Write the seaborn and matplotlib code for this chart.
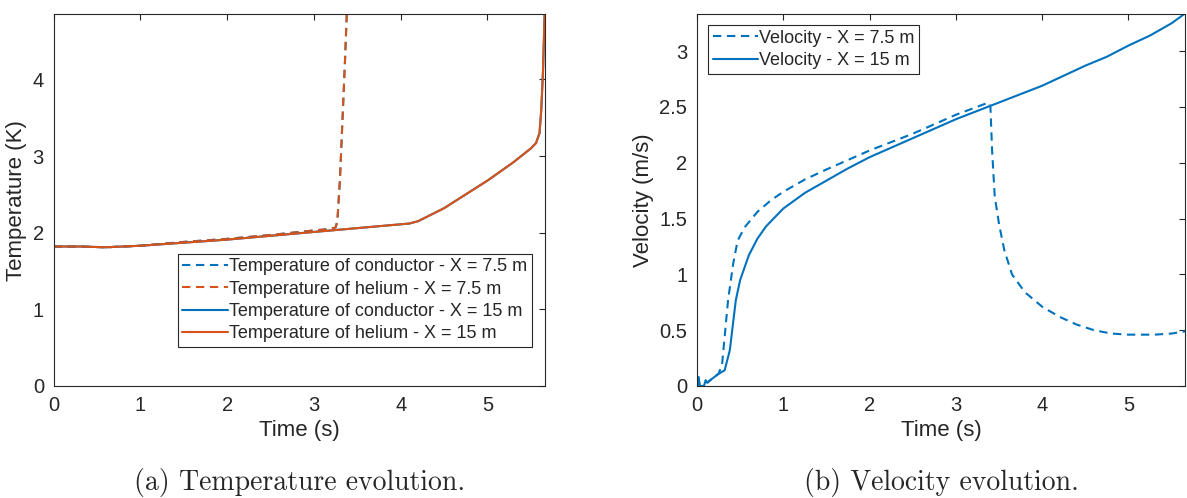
import matplotlib
matplotlib.use("Agg")
import matplotlib.pyplot as plt
import seaborn as sns

# temperature data (K)
t_15 = [0, 0.3, 0.6, 0.8, 1.0, 1.5, 2.0, 2.5, 3.0, 3.5, 4.0, 4.1, 4.2, 4.5, 5.0, 5.3, 5.5, 5.56, 5.6, 5.62, 5.64, 5.65, 5.66]
T_cond_15 = [1.82, 1.82, 1.81, 1.82, 1.83, 1.87, 1.91, 1.96, 2.01, 2.06, 2.11, 2.12, 2.15, 2.32, 2.68, 2.92, 3.1, 3.17, 3.3, 3.6, 4.1, 4.5, 4.9]
T_he_15 = [1.82, 1.82, 1.81, 1.82, 1.83, 1.87, 1.91, 1.96, 2.01, 2.06, 2.11, 2.12, 2.15, 2.32, 2.68, 2.92, 3.1, 3.17, 3.3, 3.6, 4.1, 4.5, 4.9]
t_75 = [0, 0.3, 0.6, 0.8, 1.0, 1.5, 2.0, 2.5, 3.0, 3.2, 3.25, 3.27, 3.3, 3.33, 3.36, 3.38]
T_cond_75 = [1.82, 1.82, 1.81, 1.82, 1.83, 1.88, 1.92, 1.97, 2.03, 2.05, 2.07, 2.15, 2.7, 3.5, 4.3, 4.9]
T_he_75 = [1.82, 1.82, 1.81, 1.82, 1.83, 1.88, 1.92, 1.97, 2.03, 2.05, 2.07, 2.15, 2.7, 3.5, 4.3, 4.9]

# velocity data (m/s)
tv_15 = [0, 0.02, 0.03, 0.05, 0.08, 0.1, 0.12, 0.15, 0.2, 0.25, 0.32, 0.38, 0.45, 0.5, 0.6, 0.7, 0.8, 1.0, 1.25, 1.5,
         1.75, 2.0, 2.5, 3.0, 3.4, 3.7, 4.0, 4.25, 4.5, 4.75, 5.0, 5.25, 5.5, 5.66]
v_15 = [0, 0.08, 0.0, 0.0, 0.0, 0.05, 0.03, 0.05, 0.08, 0.11, 0.14, 0.32, 0.77, 0.95, 1.17, 1.32, 1.43, 1.59, 1.73, 1.84,
        1.95, 2.05, 2.22, 2.39, 2.51, 2.60, 2.69, 2.78, 2.87, 2.95, 3.05, 3.14, 3.25, 3.34]
tv_75 = [0, 0.02, 0.03, 0.05, 0.08, 0.1, 0.12, 0.15, 0.2, 0.25, 0.29, 0.36, 0.42, 0.47, 0.55, 0.7, 0.85, 1.0, 1.25, 1.5,
         2.0, 2.5, 3.0, 3.38, 3.4, 3.42, 3.45, 3.5, 3.56, 3.65, 3.8, 4.0, 4.2, 4.4, 4.6, 4.8, 5.0, 5.3, 5.5, 5.66]
v_75 = [0, 0.08, 0.0, 0.0, 0.0, 0.05, 0.03, 0.05, 0.08, 0.11, 0.19, 0.77, 1.1, 1.3, 1.42, 1.56, 1.66, 1.74, 1.85, 1.94,
        2.11, 2.26, 2.43, 2.54, 2.50, 2.1, 1.7, 1.45, 1.22, 1.0, 0.84, 0.71, 0.62, 0.55, 0.5, 0.47, 0.46, 0.46, 0.47, 0.49]

blue = "#0072BD"
orange = "#D95319"
dash = (0, (4, 2.7))

sns.set_style("white")
plt.rcParams['font.family'] = ['Liberation Sans', 'DejaVu Sans']

fig = plt.figure(figsize=(11.87, 4.98), dpi=100)
ax1 = fig.add_axes([0.0452, 0.2249, 0.4137, 0.7464])
ax2 = fig.add_axes([0.5872, 0.2249, 0.4115, 0.7464])

sns.lineplot(x=t_75, y=T_cond_75, ax=ax1, color=blue, lw=1.5, linestyle=dash,
             label="Temperature of conductor - X = 7.5 m")
sns.lineplot(x=t_75, y=T_he_75, ax=ax1, color=orange, lw=1.5, linestyle=dash,
             label="Temperature of helium - X = 7.5 m")
sns.lineplot(x=t_15, y=T_cond_15, ax=ax1, color=blue, lw=1.5,
             label="Temperature of conductor - X = 15 m")
sns.lineplot(x=t_15, y=T_he_15, ax=ax1, color=orange, lw=1.5,
             label="Temperature of helium - X = 15 m")

sns.lineplot(x=tv_75, y=v_75, ax=ax2, color=blue, lw=1.5, linestyle=dash,
             label="Velocity - X = 7.5 m")
sns.lineplot(x=tv_15, y=v_15, ax=ax2, color=blue, lw=1.5,
             label="Velocity - X = 15 m")

for ax in (ax1, ax2):
    ax.set_xlim(0, 5.66)
    ax.set_xticks([0, 1, 2, 3, 4, 5])
    ax.set_xlabel("Time (s)", fontsize=16, color="#262626")
    ax.tick_params(direction="in", top=True, right=True, length=4, width=0.8,
                   labelsize=14.5, colors="#262626", pad=7)
    for s in ax.spines.values():
        s.set_color("#262626")
        s.set_linewidth(0.8)

ax1.set_ylim(0, 4.85)
ax1.set_yticks([0, 1, 2, 3, 4])
ax1.set_ylabel("Temperature (K)", fontsize=16, color="#262626")
ax2.set_ylim(0, 3.33)
ax2.set_yticks([0, 0.5, 1, 1.5, 2, 2.5, 3])
ax2.set_yticklabels(["0", "0.5", "1", "1.5", "2", "2.5", "3"])
ax2.set_ylabel("Velocity (m/s)", fontsize=16, color="#262626")

leg_kw = dict(fontsize=13, fancybox=False, framealpha=1, edgecolor="#262626", handlelength=2.5,
              handletextpad=0.1, borderpad=0.25, labelspacing=0.3, borderaxespad=0)
leg1 = ax1.legend(loc="lower right", bbox_to_anchor=(0.974, 0.105), **leg_kw)
leg2 = ax2.legend(loc="upper left", bbox_to_anchor=(0.0225, 0.971), **leg_kw)
for leg in (leg1, leg2):
    leg.get_frame().set_linewidth(0.8)

fig.text(0.0452 + 0.4137 / 2, 0.032, "(a) Temperature evolution.", ha="center", va="center",
         fontsize=20, family=["cmr10", "DejaVu Serif"])
fig.text(0.5872 + 0.4115 / 2, 0.032, "(b) Velocity evolution.", ha="center", va="center",
         fontsize=20, family=["cmr10", "DejaVu Serif"])

fig.savefig("out.png", dpi=100)
